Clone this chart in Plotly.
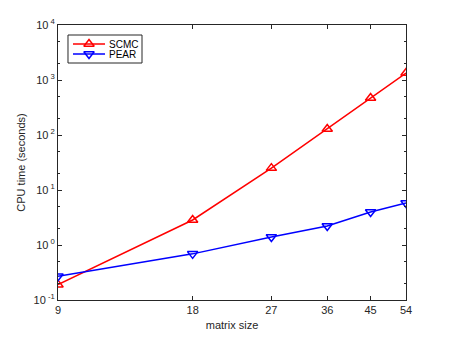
import plotly.graph_objects as go

# matrix sizes and CPU times (seconds)
matrix_size = [9, 18, 27, 36, 45, 54]
scmc_time = [0.19, 2.85, 25, 129, 470, 1340]
pear_time = [0.27, 0.69, 1.40, 2.21, 3.98, 5.8]

series_names = ["SCMC", "PEAR"]
series_colors = ["#ff0000", "#0000ff"]
series_symbols = ["triangle-up-open", "triangle-down-open"]

y_tickvals = [0.1, 1, 10, 100, 1000, 10000]
y_ticktext = ["10<sup> -1</sup>", "10<sup> 0</sup>", "10<sup> 1</sup>",
              "10<sup> 2</sup>", "10<sup> 3</sup>", "10<sup> 4</sup>"]

axis_color = "#262626"
font_family = "Liberation Sans, Arial, sans-serif"

fig = go.Figure()
for name, ys, col, sym in zip(series_names, [scmc_time, pear_time],
                              series_colors, series_symbols):
    fig.add_trace(go.Scatter(
        x=matrix_size, y=ys, name=name, mode="lines+markers",
        line=dict(color=col, width=1.5),
        marker=dict(symbol=sym, size=9, color=col, line=dict(width=1.5, color=col)),
        showlegend=False,
    ))

# compact matlab-like legend drawn on an overlay axis (0..1 box coords)
leg_x0, leg_x1, leg_y0, leg_y1 = 0.0287, 0.2414, 0.8618, 0.9636
row_y = [0.9309, 0.8945]
fig.add_shape(type="rect", xref="paper", yref="paper",
              x0=leg_x0, x1=leg_x1, y0=leg_y0, y1=leg_y1,
              line=dict(color=axis_color, width=1), fillcolor="white", layer="below")
for name, col, sym, ry in zip(series_names, series_colors, series_symbols, row_y):
    fig.add_trace(go.Scatter(
        x=[0.0431, 0.1351], y=[ry, ry], mode="lines", xaxis="x2", yaxis="y2",
        line=dict(color=col, width=1.5), showlegend=False, hoverinfo="skip",
    ))
    fig.add_trace(go.Scatter(
        x=[0.0891], y=[ry], mode="markers", xaxis="x2", yaxis="y2",
        marker=dict(symbol=sym, size=9, color=col, line=dict(width=1.5, color=col)),
        showlegend=False, hoverinfo="skip",
    ))
    fig.add_annotation(x=0.1408, y=ry, xref="paper", yref="paper", text=name,
                       showarrow=False, xanchor="left", yanchor="middle",
                       font=dict(size=10, color="black"))

# the page body has an 8px default margin, so the figure is sized to fit
fig.update_layout(
    width=441, height=329,
    margin=dict(l=50, r=43, t=17, b=37),
    paper_bgcolor="white", plot_bgcolor="white",
    font=dict(family=font_family, size=11, color=axis_color),
    xaxis=dict(
        type="log", range=[0.9542, 1.7324], automargin=False,
        tickvals=matrix_size, ticktext=[str(v) for v in matrix_size],
        ticks="inside", ticklen=4, tickcolor=axis_color,
        showline=True, linecolor=axis_color, linewidth=1, mirror="allticks",
        showgrid=False, zeroline=False,
        title=dict(text="matrix size", standoff=6, font=dict(size=11)),
        tickfont=dict(size=11),
    ),
    yaxis=dict(
        type="log", range=[-1, 4], automargin=False,
        tickvals=y_tickvals, ticktext=y_ticktext,
        ticks="inside", ticklen=4, tickcolor=axis_color,
        minor=dict(ticks="inside", ticklen=2, tickcolor=axis_color, showgrid=False),
        showline=True, linecolor=axis_color, linewidth=1, mirror="allticks",
        showgrid=False, zeroline=False,
        title=dict(text="CPU time (seconds)", standoff=5, font=dict(size=11)),
        tickfont=dict(size=11),
    ),
    xaxis2=dict(overlaying="x", range=[0, 1], visible=False, fixedrange=True),
    yaxis2=dict(overlaying="y", range=[0, 1], visible=False, fixedrange=True),
)

fig.write_html("out.html")
